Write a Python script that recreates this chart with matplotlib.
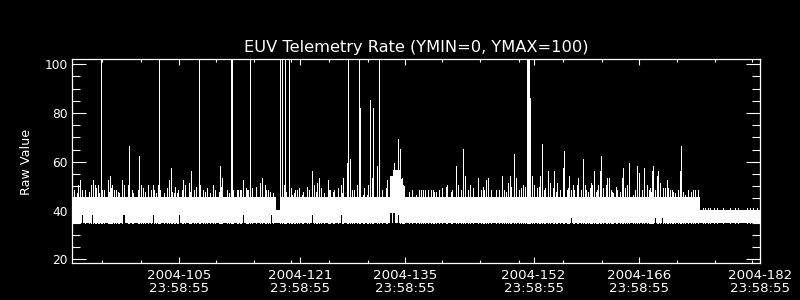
import numpy as np
from matplotlib import pyplot as plt
from matplotlib.ticker import FixedLocator, MultipleLocator

# time axis is day-of-year 2004 (fractional)
x_start = 90.82
x_end = 182.0

'''Baseline band of the telemetry rate (the dense trace between ~35 and ~46)'''
band_floor = 35.0
seg_start = [90.82, 117.86, 118.39, 132.9, 133.3, 134.3, 134.6, 134.9, 174.05]
seg_top = [45.7, 40.2, 45.7, 54.0, 56.5, 53.0, 50.0, 45.7, 40.2]

'''Spikes that run off the top of the plot'''
tall_days = [94.60, 102.41, 107.69, 111.84, 112.07, 114.46, 118.43, 118.61,
             119.10, 119.63, 127.44, 128.90, 131.55, 151.08, 151.22, 151.43]

'''Other spikes above the band'''
spike_days = [91.44, 91.66, 91.88, 92.10, 92.54, 93.34, 93.65, 93.82, 94.31, 95.11,
              95.64, 95.90, 96.08, 96.43, 96.96, 97.49, 97.76, 98.29, 98.42, 98.73,
              99.61, 99.74, 99.96, 100.85, 101.51, 101.73, 102.26, 102.48, 103.72, 103.99,
              104.38, 104.91, 105.58, 105.80, 106.37, 106.64, 107.03, 107.83, 108.14, 109.46,
              109.82, 110.44, 110.66, 111.32, 111.89, 112.20, 112.65,
              112.78, 113.09, 113.53, 113.84, 114.19, 114.72, 115.74, 116.05, 116.40, 116.75,
              117.06, 117.42, 118.87, 119.93, 120.38, 120.64, 120.95, 121.26, 121.92, 122.23,
              122.67, 122.94, 123.25, 123.60, 123.82, 124.79, 125.06, 125.50, 126.12, 126.47,
              126.78, 127.31, 127.71, 127.98, 128.24, 128.64, 128.99, 129.43, 129.87, 130.10,
              130.32, 130.54, 130.76, 131.29, 131.86, 132.53, 133.55, 134.07, 134.34,
              134.51, 134.73, 135.84, 136.41, 137.03, 137.30, 137.61, 138.05, 138.62, 139.06,
              139.51, 139.90, 140.48, 141.18, 141.76, 142.02, 142.38, 142.69, 142.95, 143.57,
              144.01, 144.67, 144.98, 145.34, 145.69, 145.91, 146.31, 146.97, 147.77, 148.08,
              148.65, 148.87, 149.45, 149.67, 150.11, 150.55, 150.86, 151.52, 151.74, 152.10,
              152.41, 152.85, 153.07, 153.51, 153.91, 154.17, 154.70, 155.06, 155.50, 155.85,
              156.07, 156.38,
              156.69, 156.96, 157.40, 157.71, 157.93, 158.28, 158.59, 158.81, 159.16, 159.61,
              159.78, 160.05, 160.36, 160.58, 160.75, 160.93, 161.24, 161.73, 161.99, 162.35,
              162.57, 163.10, 163.67, 163.89, 164.33, 164.69, 165.22, 165.44, 165.75, 166.01,
              166.32, 166.67, 166.98, 167.29, 167.56, 167.73, 167.87, 168.09, 168.31, 168.53,
              168.75, 169.19, 169.41, 169.68, 170.08, 170.39, 170.74, 171.45, 171.58, 172.06,
              172.51, 173.17, 173.39, 173.83]
spike_vals = [47.3, 50.5, 52.5, 48.4, 48.4, 50.5, 52.5, 50.5, 50.5, 48.4,
              52.5, 54.3, 50.5, 48.4, 47.7, 52.5, 50.5, 50.5, 66.6, 48.4,
              48.4, 62.5, 50.5, 48.4, 50.5, 48.4, 50.5, 48.4, 52.5, 57.6,
              47.1, 48.4, 52.5, 50.5, 51.2, 56.4, 48.4, 50.5, 48.4, 50.5,
              48.4, 58.4, 53.2, 47.7, 56.2, 48.4, 48.4,
              48.4, 48.4, 52.5, 49.1, 48.4, 49.1, 51.2, 53.2, 50.5, 48.4,
              47.1, 47.1, 50.5, 46.4, 48.4, 48.4, 49.1, 46.4, 48.4, 48.4,
              56.2, 50.5, 51.2, 53.2, 48.4, 52.5, 48.4, 48.4, 48.4, 50.5,
              53.2, 59.6, 61.1, 48.4, 48.4, 50.5, 81.9, 46.4, 46.4, 50.5,
              85.3, 53.5, 82.2, 58.3, 48.4, 52.5, 59.4, 69.4, 65.2,
              53.2, 50.5, 48.4, 46.4, 48.4, 48.4, 48.4, 48.4, 48.4, 47.7,
              48.4, 49.4, 50.5, 48.4, 58.3, 50.5, 48.4, 65.2, 54.3, 50.5,
              48.4, 53.5, 48.4, 49.8, 52.5, 53.2, 48.4, 48.4, 54.2, 48.4,
              51.2, 54.2, 63.2, 53.2, 48.4, 50.5, 49.8, 86.0, 54.2, 50.5,
              49.4, 54.2, 67.3, 49.4, 56.2, 51.2, 56.2, 51.2, 48.4, 57.6,
              64.4, 48.4,
              54.3, 48.4, 48.4, 50.5, 53.5, 48.4, 61.1, 50.5, 47.5, 51.2,
              50.5, 56.2, 48.4, 50.5, 56.2, 62.5, 47.1, 53.5, 53.5, 47.5,
              47.1, 48.4, 53.5, 57.6, 50.5, 59.6, 46.4, 48.4, 58.4, 55.5,
              48.4, 57.6, 50.5, 48.4, 47.5, 56.2, 58.4, 48.4, 54.3, 56.2,
              51.2, 49.4, 49.4, 52.7, 48.4, 48.4, 47.1, 56.4, 66.6, 46.4,
              48.4, 48.4, 48.4, 48.4]

'''Small blips just above the band'''
small_days = [91.04, 92.59, 93.12, 94.00, 94.35, 94.80, 95.68, 96.03, 96.70, 97.01,
              97.45, 98.24, 98.86, 99.57, 100.19, 100.54, 100.89, 101.25, 101.95, 102.31,
              103.01, 103.41, 104.07, 104.43, 104.74, 105.40, 105.84, 106.50, 106.95, 107.25,
              107.61, 108.40, 108.76, 109.11, 109.82, 110.26, 110.61, 111.32, 111.67, 112.03,
              112.82, 113.18,
              114.06, 114.72, 115.17, 116.49, 117.07, 117.51, 118.70, 119.14, 119.81, 120.25,
              120.91, 121.48, 122.01, 123.12, 123.78, 124.22, 124.89, 125.46, 126.08, 126.65,
              127.32, 127.98, 128.86, 129.52, 130.05, 131.29, 131.95, 132.40, 134.83, 135.49,
              135.93,
              136.85, 138.40, 138.84, 140.39, 141.05, 141.71, 143.26, 143.92, 145.47, 146.35,
              147.45, 148.34, 149.00, 150.33, 152.76, 153.42, 153.86, 154.52, 154.97, 156.51,
              157.17, 157.84, 158.50, 158.94,
              159.43, 160.31, 161.20, 161.64, 162.30, 162.97, 163.41, 164.07, 167.38, 169.81,
              170.48, 171.14, 171.80, 172.91,
              174.49, 174.72, 175.07, 175.38, 175.91, 176.26, 177.15, 178.03, 178.69, 179.13,
              180.24, 180.68, 181.12, 181.56]
small_vals = [48.4, 47.7, 47.7, 49.1, 47.1, 48.4, 47.7, 49.1, 48.4, 47.1,
              49.1, 49.8, 47.1, 48.4, 49.1, 47.7, 50.5, 48.4, 47.1, 49.8,
              47.1, 49.1, 47.7, 49.8, 47.1, 48.4, 49.1, 47.7, 48.4, 49.8,
              47.1, 47.7, 49.1, 47.1, 48.4, 47.7, 49.8, 48.4, 47.1, 49.1,
              47.7, 48.4,
              48.4, 47.1, 49.8, 48.4, 47.7, 47.1, 48.4, 47.7, 49.1, 47.1,
              48.4, 47.7, 49.8, 47.7, 49.1, 47.1, 48.4, 47.7, 49.1, 47.1,
              48.4, 47.7, 48.4, 49.1, 47.7, 48.4, 47.1, 49.1, 48.4, 47.7,
              47.1,
              48.4, 48.4, 47.7, 49.8, 47.7, 48.4, 48.4, 49.1, 48.4, 47.7,
              48.4, 47.7, 49.8, 49.1, 49.8, 48.4, 51.2, 49.1, 47.7, 49.1,
              50.5, 48.4, 49.1, 48.4,
              49.1, 47.7, 49.1, 50.5, 48.4, 49.8, 47.7, 49.1, 49.1, 49.1,
              47.7, 48.4, 47.7, 47.7,
              40.9, 40.9, 40.9, 40.9, 40.9, 40.9, 40.9, 40.9, 40.9, 40.9,
              40.9, 40.9, 40.9, 40.9]

'''Places where the minimum stays above the band floor'''
dip_days = [92.11, 93.51, 97.55, 97.68, 101.52, 105.0, 113.52, 117.16, 122.59, 126.43,
            132.9, 133.03, 133.16, 133.3, 133.43, 133.56, 134.07, 156.92, 168.09, 168.98]
dip_vals = [38.1, 38.1, 38.1, 38.1, 38.1, 38.1, 38.1, 38.1, 38.1, 38.1,
            39.1, 39.1, 39.1, 39.1, 39.1, 39.1, 38.1, 36.8, 36.8, 36.8]

'''Axis ticks'''
major_days = [105, 121, 135, 152, 166, 182]
major_labels = ['2004-105\n23:58:55', '2004-121\n23:58:55', '2004-135\n23:58:55',
                '2004-152\n23:58:55', '2004-166\n23:58:55', '2004-182\n23:58:55']
minor_days = [94.8, 99.9, 109.9, 114.9, 119.8, 124.9, 130.0, 139.9, 144.9, 150.0,
              155.9, 161.0, 171.0, 176.1, 181.0]

plt.rcParams['font.family'] = ['DejaVu Sans']
fig = plt.figure(figsize=(8, 3), dpi=100, facecolor='black')
ax = fig.add_axes([0.09, 0.1223, 0.86, 0.6800])
ax.set_facecolor('black')

seg_end = seg_start[1:] + [x_end]
for s, e, top in zip(seg_start, seg_end, seg_top):
    ax.fill_between([s, e], band_floor, top, color='white', lw=0, antialiased=False)

ax.vlines(small_days, band_floor, small_vals, color='white', lw=0.6, antialiased=False)
ax.vlines(tall_days, band_floor, 102.05, color='white', lw=0.6, antialiased=False)
ax.vlines(spike_days, band_floor, spike_vals, color='white', lw=0.6, antialiased=False)
ax.vlines(dip_days, band_floor - 0.05, dip_vals, color='black', lw=0.6, antialiased=False)

ax.set_xlim(x_start, x_end)
ax.set_ylim(18.35, 102.05)

ax.xaxis.set_major_locator(FixedLocator(major_days))
ax.xaxis.set_minor_locator(FixedLocator(minor_days))
ax.set_xticklabels(major_labels, fontsize=9.6, color='white', linespacing=1.0)
ax.yaxis.set_major_locator(MultipleLocator(20))
ax.yaxis.set_minor_locator(MultipleLocator(5))
for lab in ax.get_yticklabels():
    lab.set_fontsize(8.8)
    lab.set_color('white')

ax.tick_params(axis='x', which='major', direction='in', length=4.3, width=0.8,
               color='white', top=True, pad=4.3)
ax.tick_params(axis='x', which='minor', direction='in', length=2.3, width=0.8,
               color='white', top=True)
ax.tick_params(axis='y', which='major', direction='in', length=10.3, width=0.8,
               color='white', right=True, pad=3.1)
ax.tick_params(axis='y', which='minor', direction='in', length=5.5, width=0.8,
               color='white', right=True)
for sp in ax.spines.values():
    sp.set_color('white')
    sp.set_linewidth(0.9)

ax.set_title('EUV Telemetry Rate (YMIN=0, YMAX=100)', color='white', fontsize=11.7, pad=5)
fig.text(27 / 800, 1 - 161.5 / 300, 'Raw Value', rotation=90, ha='center', va='center',
         color='white', fontsize=9.2)

fig.savefig('out.png', dpi=100, facecolor='black')
